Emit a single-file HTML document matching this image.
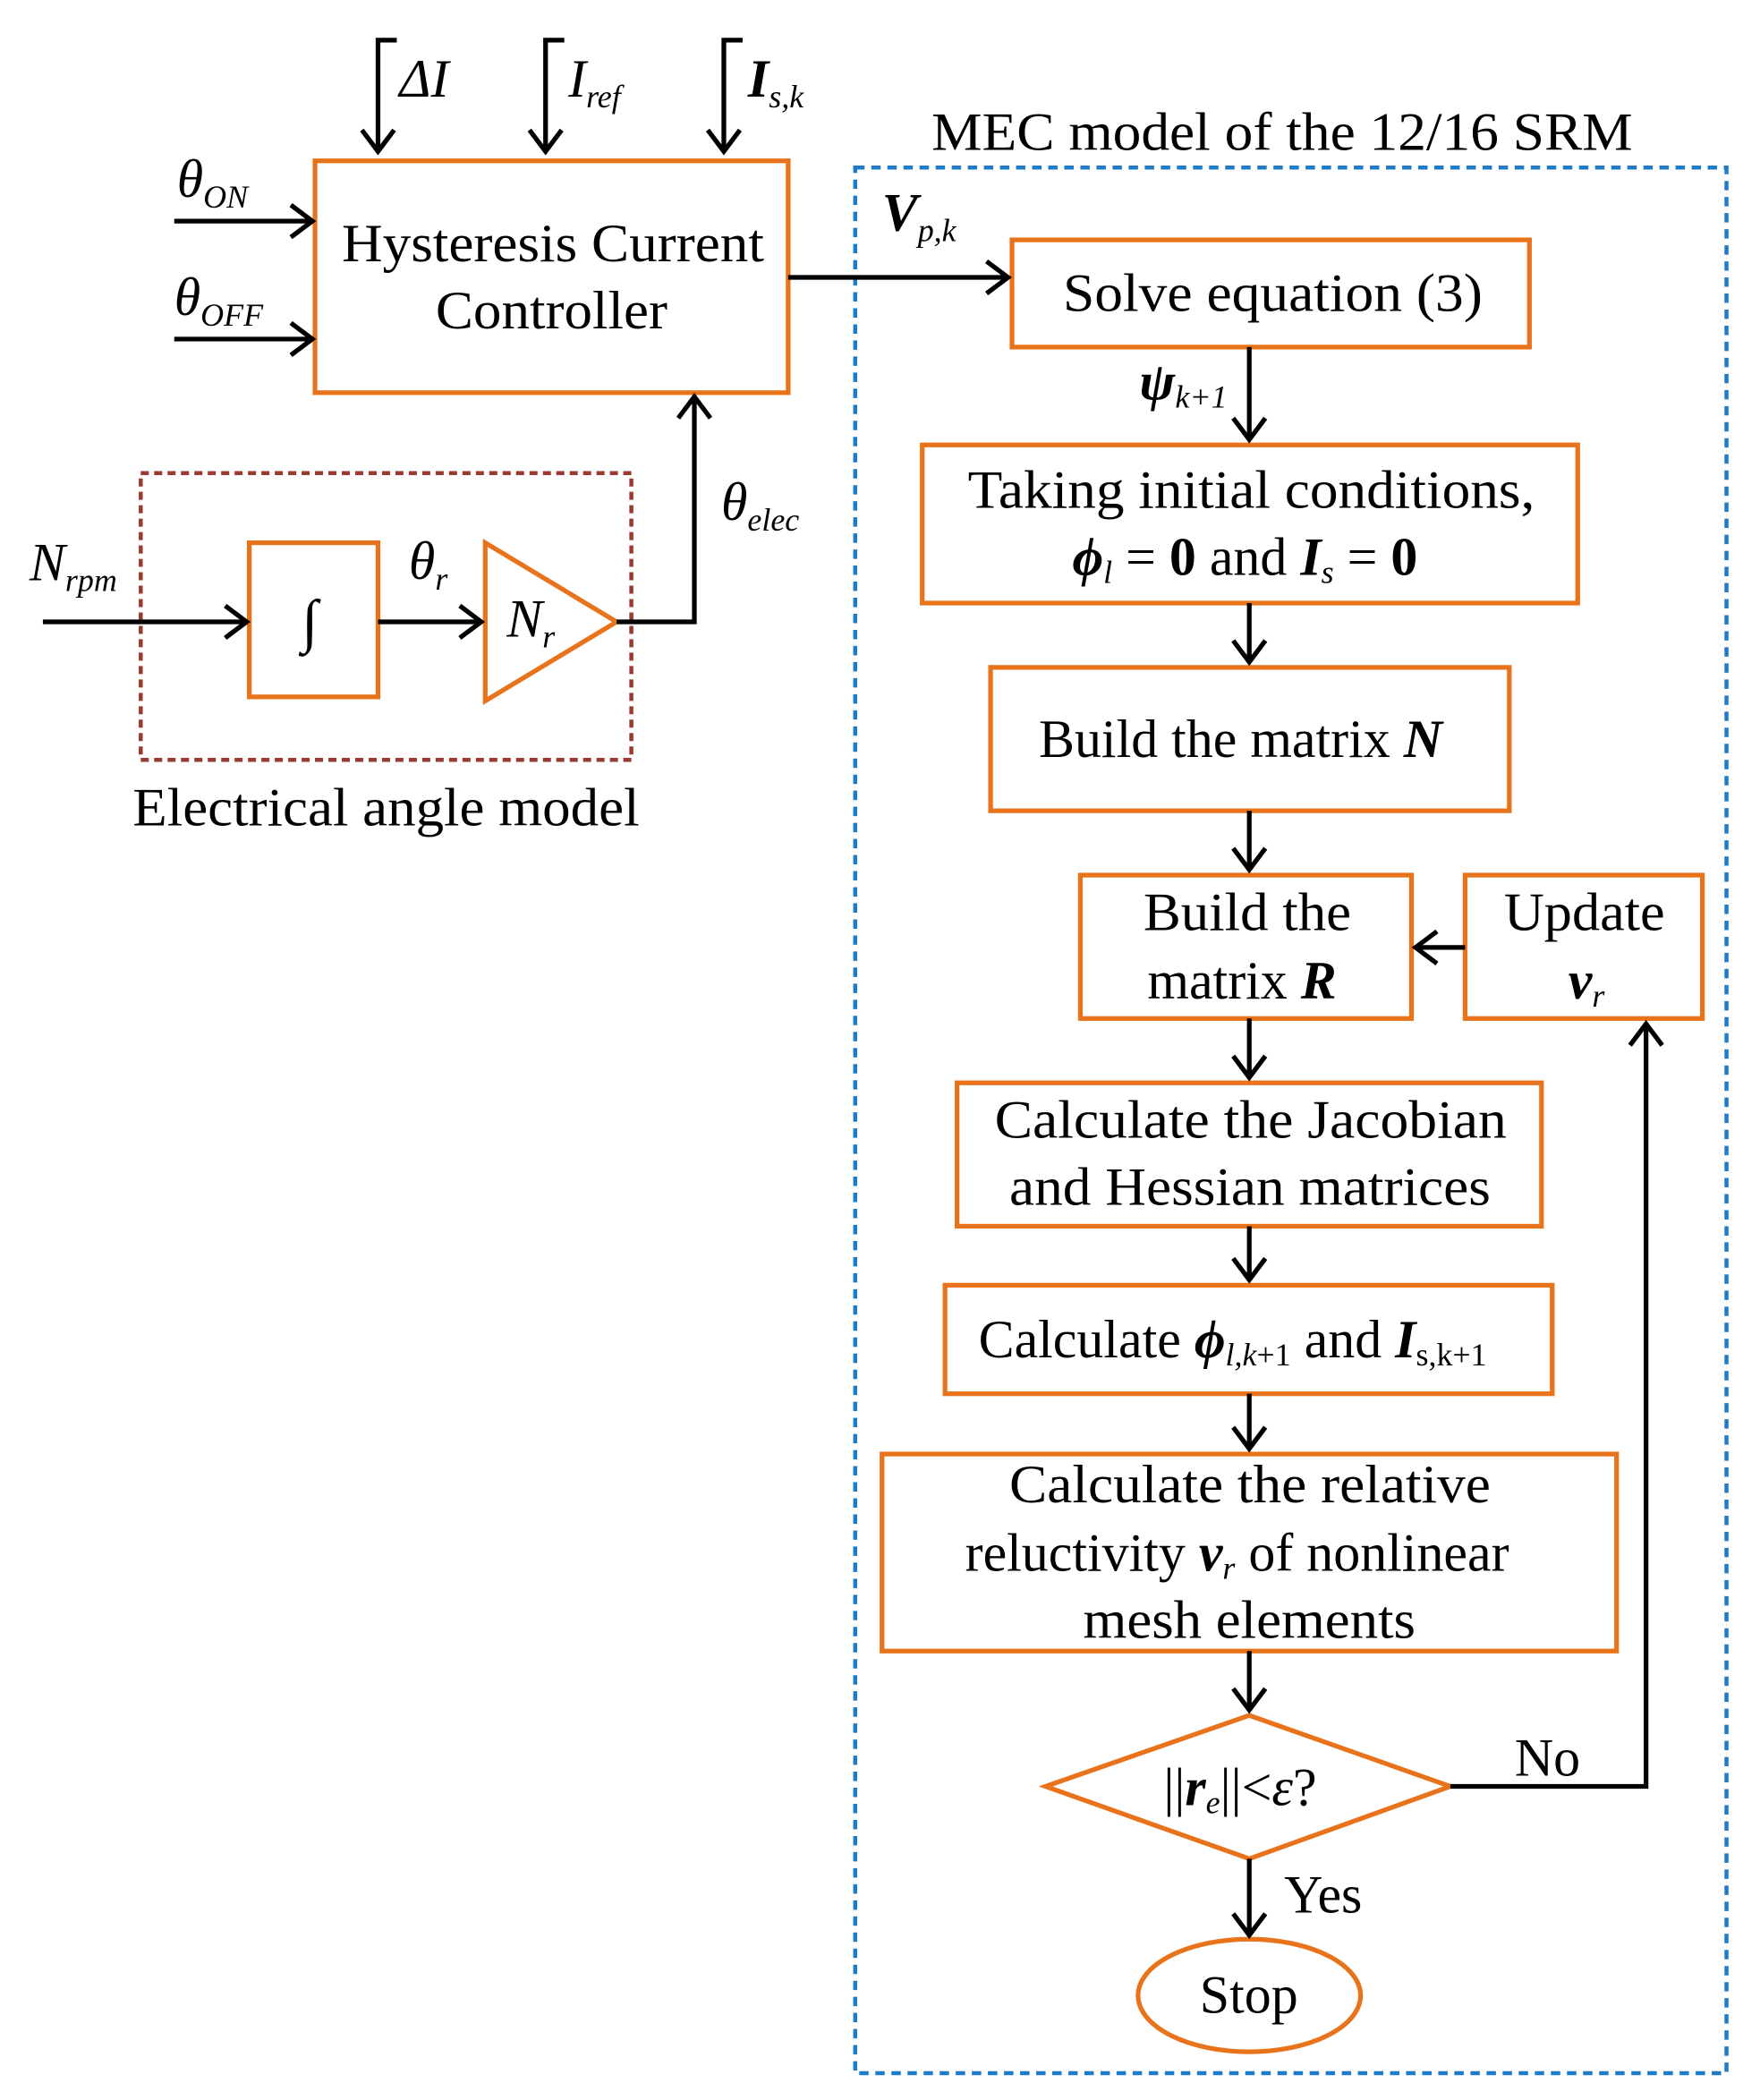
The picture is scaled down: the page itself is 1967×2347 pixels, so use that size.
<!DOCTYPE html>
<html><head><meta charset="utf-8"><style>
html,body{margin:0;padding:0;background:#fff}
svg{display:block}
text{font-family:"Liberation Serif","DejaVu Serif",serif;fill:#000}
</style></head><body>
<svg width="1967" height="2347" viewBox="0 0 1313 1567" preserveAspectRatio="none" xmlns="http://www.w3.org/2000/svg">
<defs>
<marker id="a" markerUnits="userSpaceOnUse" markerWidth="40" markerHeight="40" refX="20" refY="20" orient="auto">
<polyline points="4,8 20,20 4,32" fill="none" stroke="#000" stroke-width="3.5"/>
</marker>
</defs>
<g fill="none" stroke="#E8731A" stroke-width="3.5">
<rect x="235" y="120" width="353" height="173"/>
<rect x="755" y="179" width="386" height="80"/>
<rect x="688" y="332" width="489" height="118"/>
<rect x="739" y="498" width="387" height="107"/>
<rect x="806" y="653" width="247" height="107"/>
<rect x="1093" y="653" width="177" height="107"/>
<rect x="714" y="808" width="436" height="107"/>
<rect x="705" y="959" width="453" height="81"/>
<rect x="658" y="1085" width="548" height="147"/>
<polygon points="780,1333 932,1280 1082,1333 932,1387"/>
<ellipse cx="932" cy="1489" rx="83" ry="42"/>
<rect x="186" y="405" width="96" height="115"/>
<polygon points="362,405 362,523 460,464"/>
</g>
<rect x="638" y="125" width="650" height="1422" fill="none" stroke="#1E7BC8" stroke-width="3" stroke-dasharray="7,5"/>
<rect x="105" y="353" width="366" height="214" fill="none" stroke="#9B3A2E" stroke-width="3" stroke-dasharray="6,4"/>
<g fill="none" stroke="#000" stroke-width="3.5">
<path d="M296,30 L282,30 L282,113" marker-end="url(#a)"/>
<path d="M421,30 L407,30 L407,113" marker-end="url(#a)"/>
<path d="M554,30 L540,30 L540,113" marker-end="url(#a)"/>
<path d="M130,165 L233,165" marker-end="url(#a)"/>
<path d="M130,253 L233,253" marker-end="url(#a)"/>
<path d="M588,207 L752,207" marker-end="url(#a)"/>
<path d="M932,259 L932,328" marker-end="url(#a)"/>
<path d="M932,450 L932,494" marker-end="url(#a)"/>
<path d="M932,605 L932,649" marker-end="url(#a)"/>
<path d="M1093,707 L1056,707" marker-end="url(#a)"/>
<path d="M932,760 L932,804" marker-end="url(#a)"/>
<path d="M932,915 L932,955" marker-end="url(#a)"/>
<path d="M932,1040 L932,1081" marker-end="url(#a)"/>
<path d="M932,1232 L932,1276" marker-end="url(#a)"/>
<path d="M1082,1333 L1228,1333 L1228,764" marker-end="url(#a)"/>
<path d="M932,1387 L932,1444" marker-end="url(#a)"/>
<path d="M32,464 L184,464" marker-end="url(#a)"/>
<path d="M282,464 L359,464" marker-end="url(#a)"/>
<path d="M460,464 L518,464 L518,296" marker-end="url(#a)"/>
</g>
<g font-size="40">
<text x="255" y="195" textLength="315" lengthAdjust="spacingAndGlyphs">Hysteresis Current</text>
<text x="325" y="245" textLength="173" lengthAdjust="spacingAndGlyphs">Controller</text>
<text x="695" y="112" textLength="523" lengthAdjust="spacingAndGlyphs">MEC model of the 12/16 SRM</text>
<text x="793" y="232" textLength="313" lengthAdjust="spacingAndGlyphs">Solve equation (3)</text>
<text x="722" y="379" textLength="423" lengthAdjust="spacingAndGlyphs">Taking initial conditions,</text>
<text x="800" y="429"><tspan font-weight="bold" font-style="italic">ϕ</tspan><tspan font-size="24" font-style="italic" dy="6">l</tspan><tspan dy="-6"> = </tspan><tspan font-weight="bold">0</tspan><tspan> and </tspan><tspan font-weight="bold" font-style="italic">I</tspan><tspan font-size="24" font-style="italic" dy="6">s</tspan><tspan dy="-6"> = </tspan><tspan font-weight="bold">0</tspan></text>
<text x="775" y="565">Build the matrix <tspan font-weight="bold" font-style="italic">N</tspan></text>
<text x="853" y="694" textLength="155" lengthAdjust="spacingAndGlyphs">Build the</text>
<text x="856" y="745">matrix <tspan font-weight="bold" font-style="italic">R</tspan></text>
<text x="1122" y="694" textLength="120" lengthAdjust="spacingAndGlyphs">Update</text>
<text x="1170" y="745"><tspan font-weight="bold" font-style="italic">ν</tspan><tspan font-size="24" font-style="italic" dy="6">r</tspan></text>
<text x="742" y="849" textLength="382" lengthAdjust="spacingAndGlyphs">Calculate the Jacobian</text>
<text x="753" y="899" textLength="359" lengthAdjust="spacingAndGlyphs">and Hessian matrices</text>
<text x="730" y="1013">Calculate <tspan font-weight="bold" font-style="italic">ϕ</tspan><tspan font-size="24" font-style="italic" dy="6">l,k</tspan><tspan font-size="24">+1</tspan><tspan dy="-6"> and </tspan><tspan font-weight="bold" font-style="italic">I</tspan><tspan font-size="24" dy="6">s,k+1</tspan></text>
<text x="753" y="1121" textLength="359" lengthAdjust="spacingAndGlyphs">Calculate the relative</text>
<text x="720" y="1172">reluctivity <tspan font-weight="bold" font-style="italic">ν</tspan><tspan font-size="24" font-style="italic" dy="6">r</tspan><tspan dy="-6"> of nonlinear</tspan></text>
<text x="808" y="1222" textLength="248" lengthAdjust="spacingAndGlyphs">mesh elements</text>
<text x="868" y="1347">||<tspan font-weight="bold" font-style="italic">r</tspan><tspan font-size="24" font-style="italic" dy="6">e</tspan><tspan dy="-6">||&lt;</tspan><tspan font-style="italic">ε</tspan>?</text>
<text x="1130" y="1325">No</text>
<text x="958" y="1427">Yes</text>
<text x="895" y="1502">Stop</text>
<text x="99" y="616" textLength="378" lengthAdjust="spacingAndGlyphs">Electrical angle model</text>
<text x="225" y="478" font-size="44">∫</text>
<text x="378" y="475" font-style="italic">N<tspan font-size="24" dy="8">r</tspan></text>
<text x="305" y="432" font-style="italic">θ<tspan font-size="24" dy="8">r</tspan></text>
<text x="22" y="433" font-style="italic">N<tspan font-size="24" dy="8">rpm</tspan></text>
<text x="538" y="388" font-style="italic">θ<tspan font-size="24" dy="8">elec</tspan></text>
<text x="132" y="147" font-style="italic">θ<tspan font-size="24" dy="8">ON</tspan></text>
<text x="130" y="235" font-style="italic">θ<tspan font-size="24" dy="8">OFF</tspan></text>
<text x="298" y="72" font-style="italic">ΔI</text>
<text x="424" y="72" font-style="italic">I<tspan font-size="24" dy="8">ref</tspan></text>
<text x="558" y="72" font-style="italic" font-weight="bold">I<tspan font-size="24" font-weight="normal" dy="8">s,k</tspan></text>
<text x="658" y="172" font-style="italic" font-weight="bold">V<tspan font-size="24" font-weight="normal" dy="8">p,k</tspan></text>
<text x="850" y="298" font-style="italic" font-weight="bold">ψ<tspan font-size="24" font-weight="normal" dy="6">k+1</tspan></text>
</g>
</svg>
</body></html>
